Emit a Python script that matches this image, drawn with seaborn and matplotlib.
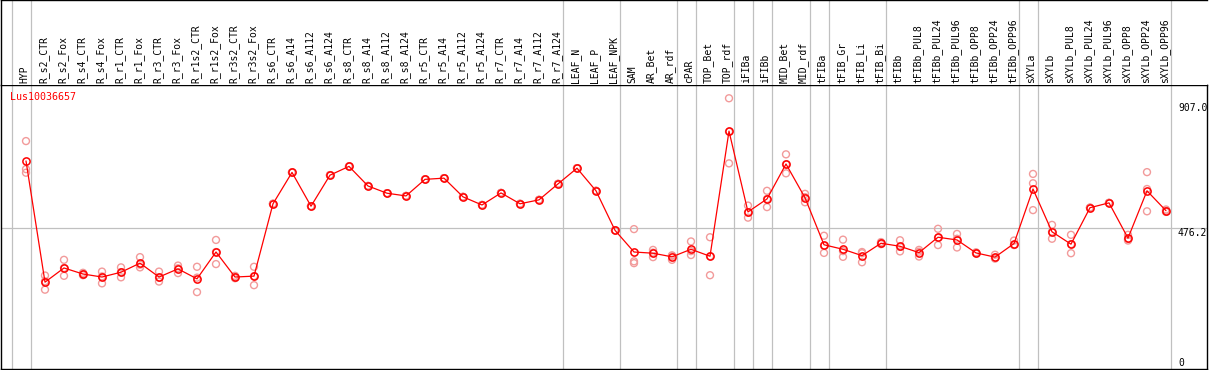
#!/usr/bin/env python3
"""
Expression profile of one gene across samples (eFP-style line plot).
"""

import numpy as np
import pandas as pd
import matplotlib
matplotlib.use('Agg')
import matplotlib.pyplot as plt
import matplotlib.transforms as mtransforms
import seaborn as sns

sns.set_theme(style="white")
plt.rcParams['font.family'] = ['DejaVu Sans Mono', 'DejaVu Sans']

GENE = 'Lus10036657'

samples = [
    'HYP', 'R_s2_CTR', 'R_s2_Fox', 'R_s4_CTR', 'R_s4_Fox', 'R_r1_CTR', 'R_r1_Fox',
    'R_r3_CTR', 'R_r3_Fox', 'R_r1s2_CTR', 'R_r1s2_Fox', 'R_r3s2_CTR', 'R_r3s2_Fox',
    'R_s6_CTR', 'R_s6_A14', 'R_s6_A112', 'R_s6_A124', 'R_s8_CTR', 'R_s8_A14',
    'R_s8_A112', 'R_s8_A124', 'R_r5_CTR', 'R_r5_A14', 'R_r5_A112', 'R_r5_A124',
    'R_r7_CTR', 'R_r7_A14', 'R_r7_A112', 'R_r7_A124', 'LEAF_N', 'LEAF_P', 'LEAF_NPK',
    'SAM', 'AR_Bet', 'AR_rdf', 'cPAR', 'TOP_Bet', 'TOP_rdf', 'iFIBa', 'iFIBb',
    'MID_Bet', 'MID_rdf', 'tFIBa', 'tFIB_Gr', 'tFIB_Li', 'tFIB_Bi', 'tFIBb',
    'tFIBb_PUL8', 'tFIBb_PUL24', 'tFIBb_PUL96', 'tFIBb_OPP8', 'tFIBb_OPP24', 'tFIBb_OPP96',
    'sXYLa', 'sXYLb', 'sXYLb_PUL8', 'sXYLb_PUL24', 'sXYLb_PUL96', 'sXYLb_OPP8',
    'sXYLb_OPP24', 'sXYLb_OPP96',
]

mean_expr = [
    699, 297, 344, 324, 314, 330, 360, 314, 341, 308, 397, 314, 317,
    557, 661, 549, 652, 681, 616, 592, 583, 638, 642, 580, 553, 593, 557, 570, 623,
    675, 600, 469,
    397, 393, 381, 406, 383, 798, 530, 573, 689, 577,
    421, 406, 385, 426, 416, 395, 446, 437, 394, 380, 425,
    606, 464, 423, 544, 560, 443, 600, 534,
]

rep_a = [
    765, 319, 371, 328, 332, 346, 380, 332, 352, 348, 437, 318, 348,
    557, 661, 549, 652, 681, 616, 592, 583, 638, 642, 580, 553, 593, 557, 570, 623,
    675, 600, 469,
    473, 404, 384, 432, 446, 907, 551, 600, 721, 590,
    451, 438, 397, 430, 436, 404, 474, 457, 396, 388, 435,
    656, 487, 454, 544, 560, 454, 662, 538,
]

rep_b = [
    672, 272, 318, 320, 293, 313, 346, 299, 327, 264, 357, 310, 287,
    557, 661, 549, 652, 681, 616, 592, 583, 638, 642, 580, 553, 593, 557, 570, 623,
    675, 600, 469,
    366, 380, 371, 387, 320, 691, 511, 546, 658, 562,
    394, 381, 363, 423, 399, 382, 420, 412, 392, 375, 420,
    625, 441, 393, 544, 560, 435, 532, 530,
]

rep_c = [
    660, 300, 344, 324, 316, 330, 355, 312, 343, 312, 397, 314, 317,
    557, 661, 549, 652, 681, 616, 592, 583, 638, 642, 580, 553, 593, 557, 570, 623,
    675, 600, 469,
    360, 395, 386, 400, 383, 796, 528, 573, 688, 579,
    418, 400, 393, 426, 414, 398, 444, 441, 394, 378, 421,
    536, 464, 423, 544, 560, 440, 606, 534,
]

# separator lines are drawn right after these samples (plus one before the first)
group_ends = ['HYP', 'R_r7_A124', 'LEAF_NPK', 'AR_rdf', 'cPAR', 'TOP_rdf', 'iFIBa',
              'iFIBb', 'MID_rdf', 'tFIBa', 'tFIB_Bi', 'tFIBb_OPP96', 'sXYLa', 'sXYLb_OPP96']

y_ticks = [907.0, 476.2, 0]
y_label_shift_px = [5, 0, -14]   # vertical nudge of the right-hand labels

# Figure geometry (pixels)
W, H = 1209, 370
DPI = 100
HEADER = 85
LINE_RED = '#ff0000'
REP_RED = '#f29a9a'
GRID = '#c0c0c0'


def build_frames():
    pos = np.arange(len(samples))
    df_mean = pd.DataFrame({'pos': pos, 'value': mean_expr})
    reps = []
    for r in (rep_a, rep_b, rep_c):
        reps.append(pd.DataFrame({'pos': pos, 'value': r}))
    df_rep = pd.concat(reps, ignore_index=True)
    return df_mean, df_rep


def main():
    df_mean, df_rep = build_frames()

    fig = plt.figure(figsize=(W / DPI, H / DPI), dpi=DPI)
    fig.patch.set_facecolor('white')

    # main plot area
    ax = fig.add_axes([1 / W, 1 / H, 1206 / W, (H - HEADER - 1) / H])
    # header with rotated sample names
    ax_h = fig.add_axes([1 / W, (H - HEADER) / H, 1206 / W, HEADER / H])

    xmin = (1 - 26) / 19
    xmax = (1207 - 26) / 19
    for a in (ax, ax_h):
        a.set_xlim(xmin, xmax)
        a.set_xticks([])
        a.set_yticks([])
        a.set_facecolor('white')
    ax.set_ylim(8.9, 951)
    ax_h.set_ylim(0, 1)

    # separator lines
    seps = [-1] + [samples.index(s) for s in group_ends]
    for s in seps:
        ax.axvline(s + 0.25, color=GRID, lw=0.9, zorder=0)
        ax_h.axvline(s + 0.25, color=GRID, lw=0.9, zorder=0)
    ax.axhline(y_ticks[1], color=GRID, lw=0.9, zorder=0)

    # replicates
    sns.scatterplot(data=df_rep, x='pos', y='value', marker='o', s=25,
                    color=REP_RED, edgecolor=REP_RED, linewidth=1.0,
                    ax=ax, zorder=2, legend=False)
    ax.collections[-1].set_facecolor('none')

    # mean profile
    sns.lineplot(data=df_mean, x='pos', y='value', color=LINE_RED, lw=0.9,
                 marker='o', markersize=5.2, markerfacecolor='none',
                 markeredgecolor=LINE_RED, markeredgewidth=1.1,
                 ax=ax, zorder=3, legend=False)
    ax.set_xlabel('')
    ax.set_ylabel('')

    for side in ['left', 'right', 'top', 'bottom']:
        ax.spines[side].set_color('black')
        ax.spines[side].set_linewidth(1.0)
        ax.spines[side].set_visible(True)
    ax_h.spines['bottom'].set_visible(False)
    ax_h.spines['right'].set_visible(False)
    ax_h.spines['top'].set_color('black')
    ax_h.spines['left'].set_color('black')
    ax_h.spines['top'].set_linewidth(1.0)
    ax_h.spines['left'].set_linewidth(1.0)

    # sample names
    trans_h = mtransforms.blended_transform_factory(ax_h.transData, ax_h.transAxes)
    for i, name in enumerate(samples):
        ax_h.text(i - 0.08, 2 / HEADER, name, rotation=90, ha='center', va='bottom',
                  fontsize=7, color='black', transform=trans_h)

    # gene name
    fig.text(10 / W, (H - 97) / H, GENE, color=LINE_RED, fontsize=7.2,
             ha='left', va='center')

    # right-hand scale labels
    trans_y = mtransforms.blended_transform_factory(ax.transAxes, ax.transData)
    for val, shift in zip(y_ticks, y_label_shift_px):
        t = mtransforms.offset_copy(trans_y, fig=fig, x=0, y=-shift * 72 / DPI, units='points')
        ax.text((1178 - 1) / 1206, val, f'{val:.1f}' if val else '0', ha='left', va='top',
                fontsize=7, color='black', transform=t, clip_on=False)

    fig.savefig('out.png', dpi=DPI, facecolor='white')
    plt.close(fig)


if __name__ == "__main__":
    main()
